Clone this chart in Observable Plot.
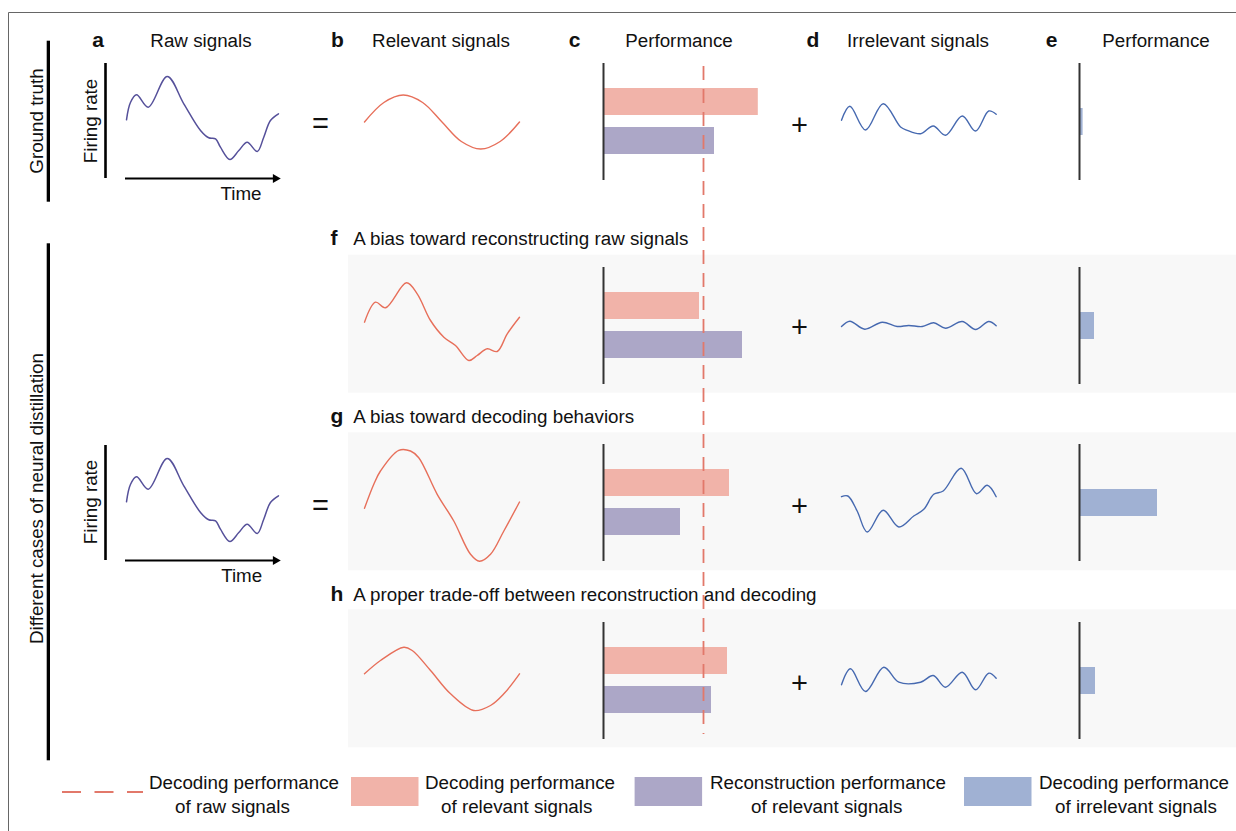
<!DOCTYPE html>
<html><head><meta charset="utf-8">
<script src="https://cdn.jsdelivr.net/npm/d3@7"></script>
<script src="https://cdn.jsdelivr.net/npm/@observablehq/plot@0.6"></script>
<style>
html,body{margin:0;padding:0;background:#fff;}
#fig{position:relative;width:1236px;height:831px;overflow:hidden;font-family:"Liberation Sans",Arial,Helvetica,sans-serif;}
</style></head><body><div id="fig"></div>
<script>
// ---------------- data ----------------
const rowIds = ["c", "f", "g", "h"];
const relevantDecoding = [0.774, 0.48, 0.63, 0.62];
const relevantReconstruction = [0.555, 0.695, 0.385, 0.54];
const irrelevantDecoding = [0.018, 0.075, 0.39, 0.08];
const rawDecoding = 0.5;

// signals: [time (0..1), firing rate (arbitrary units)]
const rawSignal = [[0,58.7],[0.026,76],[0.066,83.7],[0.143,71.3],[0.268,102],[0.377,74.7],[0.487,48],[0.541,40.7],[0.586,39.7],[0.618,31.3],[0.68,19],[0.739,28],[0.794,36.3],[0.86,27],[0.903,41.3],[0.947,58],[1,64.7]];
const relevantB = [[0,0.5],[0.125,20],[0.25,27.5],[0.375,20],[0.5,0.5],[0.625,-19],[0.75,-26.5],[0.875,-19],[1,0.5]];
const relevantF = [[0,3.3],[0.071,23.3],[0.135,17.7],[0.271,42.7],[0.34,31.7],[0.426,5],[0.512,-11.7],[0.587,-20],[0.673,-35],[0.727,-30],[0.792,-23.3],[0.856,-26],[0.921,-8.3],[1,8.3]];
const relevantG = [[0,-4.8],[0.06,19.2],[0.103,32.5],[0.221,53.2],[0.297,52.5],[0.35,45.8],[0.469,9.2],[0.576,-17.5],[0.684,-50.8],[0.742,-57.8],[0.813,-50.8],[0.899,-27.5],[1,1.5]];
const relevantH = [[0,6.7],[0.103,20],[0.254,33.3],[0.308,30],[0.426,10],[0.555,-13.3],[0.705,-30],[0.813,-25],[0.899,-13.3],[1,6.7]];
const irrelevantD = [[0,2.2],[0.054,16.2],[0.155,-7.5],[0.269,18.8],[0.381,-4.5],[0.424,-7.8],[0.51,-11.2],[0.592,-3.5],[0.671,-12.8],[0.779,6.5],[0.865,-8.5],[0.95,11.5],[0.998,8.2]];
const irrelevantF = [[0,-1],[0.054,4.3],[0.15,-3.7],[0.263,3.3],[0.359,-1],[0.434,0],[0.521,-1],[0.595,2.7],[0.671,-2.7],[0.779,4],[0.865,-4],[0.95,4],[0.998,-0.3]];
const irrelevantG = [[0,6.8],[0.041,7.5],[0.101,-7.5],[0.166,-28.5],[0.269,-6.8],[0.37,-23.5],[0.466,-12.5],[0.531,-5.8],[0.595,9.2],[0.656,12.5],[0.772,35.2],[0.871,9.8],[0.94,18.2],[0.998,6.8]];
const irrelevantH = [[0,-4.3],[0.058,11.7],[0.155,-11],[0.273,13.3],[0.37,-1.7],[0.51,-1.7],[0.592,5],[0.671,-6.7],[0.779,8.3],[0.865,-9.3],[0.95,7.3],[0.998,2.3]];
const relevantSignals = [relevantB, relevantF, relevantG, relevantH];
const irrelevantSignals = [irrelevantD, irrelevantF, irrelevantG, irrelevantH];

const columnTitles = [["a","Raw signals"],["b","Relevant signals"],["c","Performance"],["d","Irrelevant signals"],["e","Performance"]];
const caseTitles = [["f","A bias toward reconstructing raw signals"],["g","A bias toward decoding behaviors"],["h","A proper trade-off between reconstruction and decoding"]];
const legendItems = [
  ["Decoding performance","of raw signals"],
  ["Decoding performance","of relevant signals"],
  ["Reconstruction performance","of relevant signals"],
  ["Decoding performance","of irrelevant signals"]
];

// ---------------- styles / layout ----------------
const C = {raw:"#55509a", rel:"#e76f5a", irr:"#4669b0", pink:"#f1b3a9", purple:"#aca7c7", blue:"#a0b1d3", dash:"#e2786a", axis:"#333", ink:"#111", panel:"#f8f8f8"};
const FONT = "'Liberation Sans', Arial, Helvetica, sans-serif";
const FS = 18.8;
const layout = [ // per row: perf axis top, signal centre
  {axisTop:63, center:121.5},
  {axisTop:267, center:325},
  {axisTop:444, center:502.5},
  {axisTop:622, center:680}
];
const fig = document.getElementById("fig");
function place(node, left, top, z) {
  node.style.position = "absolute";
  node.style.left = left + "px";
  node.style.top = top + "px";
  node.style.zIndex = z;
  fig.appendChild(node);
}
const plotStyle = {background:"transparent", overflow:"visible"};

// ---------------- background layer ----------------
const bg = d3.create("svg").attr("width",1236).attr("height",831);
bg.append("path").attr("d","M8.5,831V12.5H1236").attr("fill","none").attr("stroke","#666").attr("stroke-width",1);
[[254.7],[432.3],[609.3]].forEach(([y]) => bg.append("rect").attr("x",348).attr("y",y).attr("width",888).attr("height",138).attr("fill",C.panel));
bg.append("rect").attr("x",46.7).attr("y",40.7).attr("width",3.3).attr("height",161).attr("fill","#000");
bg.append("rect").attr("x",46.7).attr("y",243.3).attr("width",3.3).attr("height",517).attr("fill","#000");
place(bg.node(), 0, 0, 0);

// ---------------- plots ----------------
function rawPlot() {
  return Plot.plot({
    width:188, height:132, marginLeft:26, marginRight:10, marginTop:5, marginBottom:12,
    x:{domain:[0,1], axis:null}, y:{domain:[0,115], axis:null}, style:plotStyle,
    marks:[
      Plot.ruleX([0], {dx:-21, stroke:"#000", strokeWidth:2.6}),
      Plot.ruleY([0], {x1:0, x2:1, dx:-1, stroke:"#000", strokeWidth:2.2}),
      Plot.dot([[1,0]], {x:d=>d[0], y:d=>d[1], symbol:"triangle", rotate:90, r:3.4, fill:"#000", stroke:"none", dx:-3}),
      Plot.line(rawSignal, {x:d=>d[0], y:d=>d[1], stroke:C.raw, strokeWidth:1.5, curve:"catmull-rom"})
    ]
  });
}
function signalPlot(pts, color) {
  return Plot.plot({
    width:167, height:140, marginLeft:6, marginRight:6, marginTop:5, marginBottom:5,
    x:{domain:[0,1], axis:null}, y:{domain:[-65,65], axis:null}, style:plotStyle,
    marks:[Plot.line(pts, {x:d=>d[0], y:d=>d[1], stroke:color, strokeWidth:1.4, curve:"catmull-rom"})]
  });
}
function perfPlot(dec, rec) {
  const data = [{k:"Decoding", v:dec, c:C.pink}, {k:"Reconstruction", v:rec, c:C.purple}];
  return Plot.plot({
    width:215, height:117, marginLeft:3, marginRight:12, marginTop:0, marginBottom:0,
    x:{domain:[0,1], axis:null},
    y:{domain:["Decoding","Reconstruction"], axis:null, paddingInner:0.31, paddingOuter:0, insetTop:25, insetBottom:26},
    color:{type:"identity"}, style:plotStyle,
    marks:[Plot.barX(data, {x:"v", y:"k", fill:"c"}), Plot.ruleX([0], {stroke:C.axis, strokeWidth:2})]
  });
}
function irrPlot(v) {
  return Plot.plot({
    width:118, height:117, marginLeft:3, marginRight:15, marginTop:0, marginBottom:0,
    x:{domain:[0,0.5], axis:null},
    y:{domain:["Irrelevant"], axis:null, paddingInner:0, paddingOuter:0, insetTop:45, insetBottom:45},
    style:plotStyle,
    marks:[Plot.barX([{k:"Irrelevant", v}], {x:"v", y:"k", fill:C.blue}), Plot.ruleX([0], {stroke:C.axis, strokeWidth:2})]
  });
}

place(rawPlot(), 100, 58, 1);
place(rawPlot(), 100, 439.5, 1);
rowIds.forEach((id, i) => {
  const L = layout[i];
  place(signalPlot(relevantSignals[i], C.rel), 358, L.center - 70, 1);
  place(signalPlot(irrelevantSignals[i], C.irr), 835, L.center - 70, 1);
  place(perfPlot(relevantDecoding[i], relevantReconstruction[i]), 600, L.axisTop, 1);
  place(irrPlot(irrelevantDecoding[i]), 1076, L.axisTop, 1);
});
// dashed reference line (decoding performance of raw signals) on the shared performance scale
place(Plot.plot({
  width:215, height:668, marginLeft:3, marginRight:12, marginTop:0, marginBottom:0,
  x:{domain:[0,1], axis:null}, style:plotStyle,
  marks:[Plot.ruleX([rawDecoding], {stroke:C.dash, strokeWidth:1.8, strokeDasharray:"14,9"})]
}), 600, 66, 2);

// ---------------- text layer ----------------
const ts = d3.create("svg").attr("width",1236).attr("height",831)
  .attr("font-family",FONT).attr("font-size",FS).attr("fill",C.ink).style("pointer-events","none");
function T(x, y, s, o = {}) {
  const t = ts.append("text").attr("x",x).attr("y",y).text(s).attr("text-anchor",o.anchor || "start");
  if (o.bold) t.attr("font-weight","bold");
  if (o.size) t.attr("font-size",o.size);
  if (o.rot) t.attr("x",0).attr("y",0).attr("transform",`translate(${x},${y}) rotate(-90)`);
  return t;
}
const letterX = [98, 337.5, 574.5, 813, 1051.5];
const titleX = [201, 441, 679, 918, 1156];
columnTitles.forEach(([l, s], i) => {
  T(letterX[i], 46.5, l, {anchor:"middle", bold:true, size:21});
  T(titleX[i], 46.5, s, {anchor:"middle"});
});
const caseY = [245, 422.7, 600.7];
caseTitles.forEach(([l, s], i) => {
  T(330.5, caseY[i], l, {bold:true, size:21});
  T(353.3, caseY[i], s);
});
T(42.5, 121, "Ground truth", {anchor:"middle", rot:true});
T(42.5, 498.5, "Different cases of neural distillation", {anchor:"middle", rot:true});
T(96.5, 121, "Firing rate", {anchor:"middle", rot:true});
T(96.5, 502, "Firing rate", {anchor:"middle", rot:true});
T(241, 200, "Time", {anchor:"middle"});
T(241.7, 581.7, "Time", {anchor:"middle"});
T(320.5, 123 + 9.6, "=", {anchor:"middle", size:29});
T(320.5, 505 + 9.6, "=", {anchor:"middle", size:29});
[125, 327.5, 506, 683].forEach(y => T(799.5, y + 9.6, "+", {anchor:"middle", size:29}));

// legend
const LY1 = 789, LY2 = 813;
ts.append("line").attr("x1",62).attr("x2",143).attr("y1",792).attr("y2",792)
  .attr("stroke",C.dash).attr("stroke-width",1.8).attr("stroke-dasharray","19,13.5");
const boxes = [[351, C.pink],[634.6, C.purple],[964, C.blue]];
boxes.forEach(([x, c]) => ts.append("rect").attr("x",x).attr("y",777).attr("width",67.5).attr("height",29).attr("fill",c));
const lx1 = [149, 425, 710, 1039];
const lx2 = [175, 441, 751, 1055];
legendItems.forEach(([a, b], i) => { T(lx1[i], LY1, a); T(lx2[i], LY2, b); });
place(ts.node(), 0, 0, 3);
</script></body></html>
